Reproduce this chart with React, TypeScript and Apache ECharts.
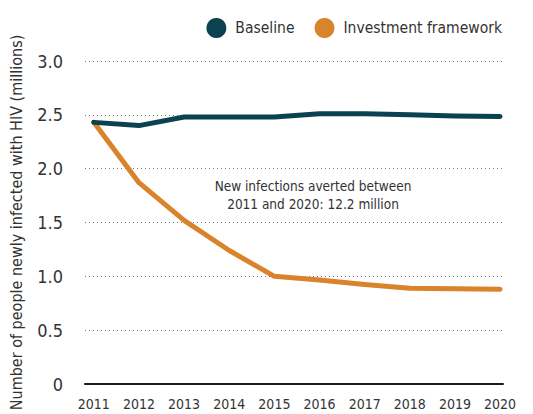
import React, { useEffect, useRef } from "react";
import * as echarts from "echarts";

const years = [2011, 2012, 2013, 2014, 2015, 2016, 2017, 2018, 2019, 2020];
const baseline = [2.43, 2.4, 2.48, 2.48, 2.48, 2.51, 2.51, 2.5, 2.49, 2.485];
const investment = [2.43, 1.87, 1.52, 1.24, 1.0, 0.965, 0.925, 0.89, 0.885, 0.88];
const yTicks = [0, 0.5, 1.0, 1.5, 2.0, 2.5, 3.0];
const seriesNames = ["Baseline", "Investment framework"];
const annotation = "New infections averted between\n2011 and 2020: 12.2 million";
const yAxisTitle = "Number of people newly infected with HIV (millions)";

const FONT = "'DejaVu Sans Condensed', 'Liberation Sans Narrow', 'Roboto', sans-serif";

export default function App() {
  const ref = useRef<HTMLDivElement>(null);
  useEffect(() => {
    if (!ref.current) return;
    const chart = echarts.init(ref.current, null, { renderer: "svg" });
    chart.setOption({
      animation: false,
      textStyle: { fontFamily: FONT },
      grid: { left: 77, right: 30, top: 61, bottom: 30 },
      legend: {
        data: seriesNames,
        right: 31,
        top: 18,
        padding: 0,
        icon: "circle",
        itemWidth: 20,
        itemHeight: 20,
        itemGap: 20,
        textStyle: { fontFamily: FONT, fontSize: 15.5, color: "#333", padding: [0, 0, 0, 4] },
      },
      xAxis: {
        type: "value",
        min: 2011 - 9 / 46,
        max: 2020 + 3 / 46,
        splitLine: { show: false },
        axisTick: { show: false },
        axisLine: { show: true, onZero: false, lineStyle: { color: "#1a1a1a", width: 2 } },
        axisLabel: {
          customValues: years,
          formatter: (v: number) => String(Math.round(v)),
          fontFamily: FONT,
          fontSize: 14,
          color: "#333",
          margin: 13,
        },
      },
      yAxis: {
        type: "value",
        min: 0,
        max: 3,
        interval: 0.5,
        name: yAxisTitle,
        nameLocation: "middle",
        nameGap: 61,
        nameTextStyle: { fontFamily: FONT, fontSize: 16, color: "#333" },
        axisLine: { show: false },
        axisTick: { show: false },
        axisLabel: {
          customValues: yTicks,
          formatter: (v: number) => (v === 0 ? "0" : v.toFixed(1)),
          fontFamily: FONT,
          fontSize: 18,
          color: "#333",
          margin: 22,
        },
        splitLine: {
          show: true,
          lineStyle: { color: "#777", type: [1, 3], width: 1 },
        },
      },
      graphic: [
        {
          type: "text",
          x: 313,
          y: 195,
          style: {
            text: annotation,
            fontFamily: FONT,
            fontSize: 13.5,
            fill: "#333",
            align: "center",
            verticalAlign: "middle",
            lineHeight: 18,
          },
        },
      ],
      series: [
        {
          name: seriesNames[0],
          type: "line",
          data: years.map((y, i) => [y, baseline[i]]),
          showSymbol: false,
          symbol: "circle",
          lineStyle: { color: "#0b4251", width: 5, cap: "round", join: "round" },
          itemStyle: { color: "#0b4251" },
          z: 3,
        },
        {
          name: seriesNames[1],
          type: "line",
          data: years.map((y, i) => [y, investment[i]]),
          showSymbol: false,
          symbol: "circle",
          lineStyle: { color: "#d9832b", width: 5, cap: "round", join: "round" },
          itemStyle: { color: "#d9832b" },
          z: 2,
        },
      ],
    });
    return () => chart.dispose();
  }, []);
  return <div ref={ref} style={{ width: 533, height: 414, position: "absolute", left: 0, top: 0 }} />;
}
